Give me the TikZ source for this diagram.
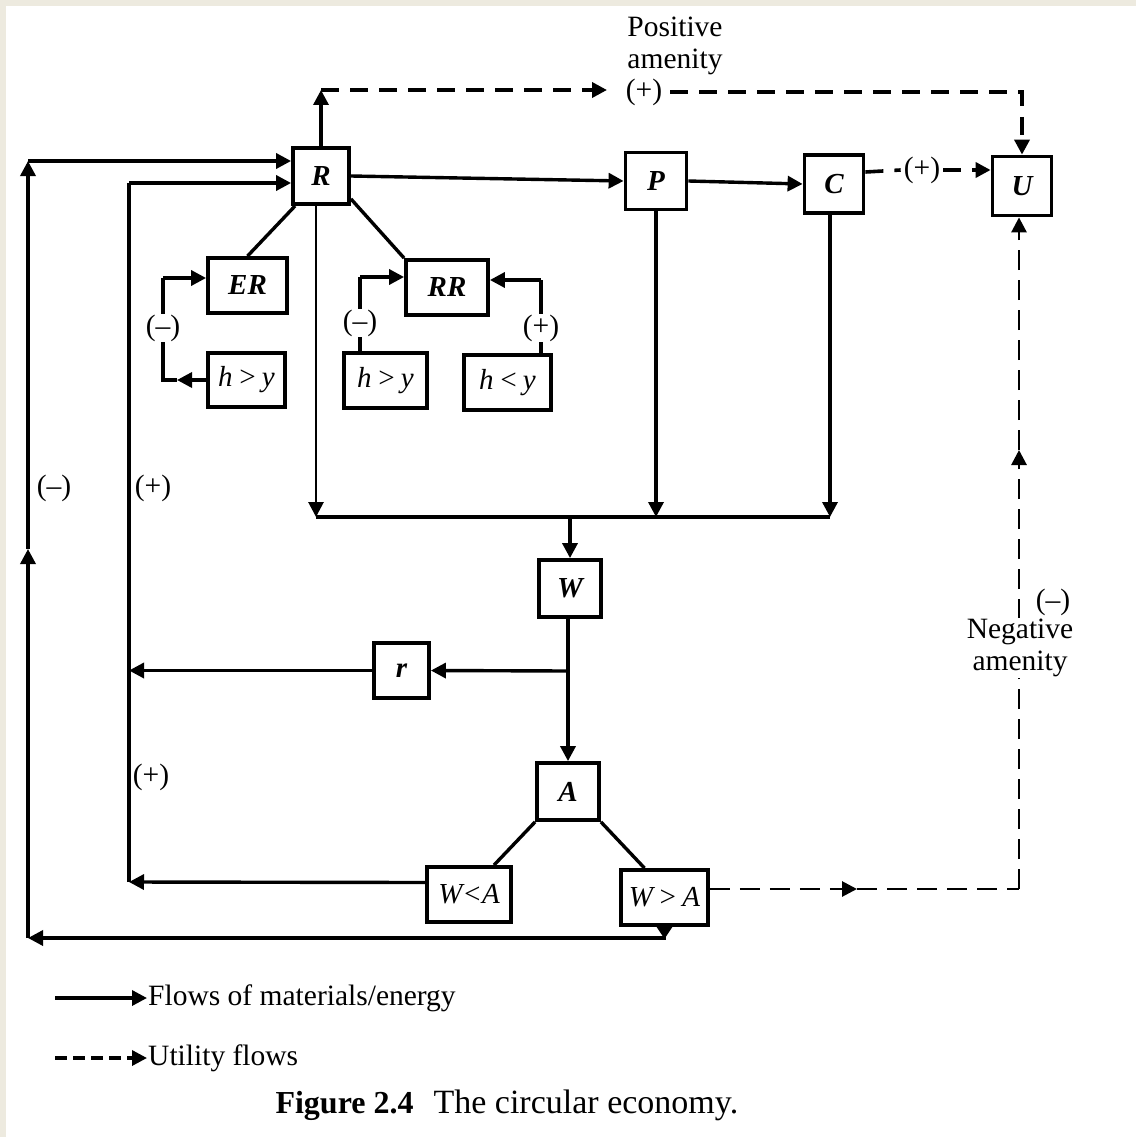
\documentclass[tikz,border=0pt]{standalone}
\usepackage{fontspec}
\setmainfont{Liberation Serif}
\usetikzlibrary{arrows.meta,calc}
\definecolor{beige}{RGB}{237,234,223}
\begin{document}
\begin{tikzpicture}[x=1pt,y=-1pt,
  every node/.style={font=\fontsize{29.5}{32}\selectfont},
  box/.style={draw,line width=3.8pt,inner sep=0pt,font=\fontsize{29}{32}\selectfont\itshape},
  bbox/.style={box,font=\fontsize{29}{32}\selectfont\bfseries\itshape},
  ln/.style={line width=3.4pt},
  tip/.style={-{Triangle[length=15pt,width=15pt]}},
  flow/.style={ln,tip},
  util/.style={line width=3.6pt,dash pattern=on 18pt off 11pt},
  utilthin/.style={line width=2.8pt,dash pattern=on 20pt off 10pt},
  lbl/.style={inner sep=1pt,fill=white}]
\fill[beige] (0,0) rectangle (1136,1137);
\fill[white] (6,6) rectangle (1136,1137);
\useasboundingbox (0,0) rectangle (1136,1137);

% boxes
\node[bbox,minimum width=56pt,minimum height=56pt] (R) at (321,176) {R};
\node[bbox,minimum width=61pt,minimum height=57pt] (P) at (656,181) {P};
\node[bbox,minimum width=59pt,minimum height=58pt] (C) at (834,184) {C};
\node[bbox,minimum width=59pt,minimum height=59pt] (U) at (1022,186) {U};
\node[bbox,minimum width=79pt,minimum height=55pt] (ER) at (247.5,285.5) {ER};
\node[bbox,minimum width=82pt,minimum height=55pt] (RR) at (447,287.5) {RR};
\node[box,minimum width=77pt,minimum height=54pt] (hy1) at (246.5,380) {h\,>\,y};
\node[box,minimum width=83pt,minimum height=55pt] (hy2) at (385.5,380.5) {h\,>\,y};
\node[box,minimum width=87pt,minimum height=55pt] (hy3) at (507.5,382.5) {h\,<\,y};
\node[bbox,minimum width=62pt,minimum height=57pt] (W) at (570,588.5) {W};
\node[bbox,minimum width=55pt,minimum height=55pt] (r) at (401.5,670.5) {r};
\node[bbox,minimum width=62pt,minimum height=57pt] (A) at (568,791.5) {A};
\node[box,minimum width=84pt,minimum height=55pt] (WlA) at (469,894.5) {W<A};
\node[box,minimum width=87pt,minimum height=55pt] (WgA) at (664.5,897.5) {W\,>\,A};

% coordinates
\coordinate (bl) at (28,938);
\coordinate (ml) at (28,549);
\coordinate (tl) at (28,161);
\coordinate (p1) at (129,882);
\coordinate (p2) at (129,183);
\coordinate (s1) at (316,517);
\coordinate (s2) at (830,517);
\coordinate (t1) at (321,90);
\coordinate (t2) at (607,90);
\coordinate (t3) at (670,92);
\coordinate (n1) at (1019,889);
\coordinate (n2) at (857,889);
\coordinate (n3) at (1019,450);
\coordinate (f1a) at (177,380);
\coordinate (f1b) at (163,380);
\coordinate (f1c) at (163,278);
\coordinate (f2) at (360,277);
\coordinate (f3) at (541,280);

% main flows
\draw[flow] (R.east) -- (P.west);
\draw[flow] (P.east) -- (C.west);
\draw[flow,line width=2.8pt] ([xshift=-5pt]R.south) -- (s1);
\draw[ln] (s1) -- (s2);
\draw[flow] (P.south) -- (P.south |- s1);
\draw[flow] ([xshift=-4pt]C.south) -- ([xshift=-4pt]C.south |- s1);
\draw[flow] (W.north |- s1) -- (W.north);
\draw[flow] ([xshift=-2pt]W.south) -- ([xshift=-2pt]W.south |- A.north);
\coordinate (br) at ([xshift=-2pt]W.south |- 0,671);
\draw[flow] (br) -- (r.east);
\draw[flow] (r.west) -- (r.west -| p1);
\draw[flow] ([yshift=12pt]WlA.west) -- (p1);
\draw[ln] (p1) -- (p2);
\draw[flow] (p2) -- (R.west |- p2);

% outer loop
\draw[{Triangle[reversed,length=12pt,width=15pt]}-{Triangle[length=15pt,width=15pt]},ln] (WgA.south) -- (WgA.south |- bl) -- (bl);
\draw[flow] (bl) -- (ml);
\draw[flow] (ml) -- (tl);
\draw[flow] (tl) -- (R.west |- tl);

% A branches
\draw[ln] (A.south west) -- ([xshift=25pt]WlA.north);
\draw[ln] (A.south east) -- ([xshift=-20pt]WgA.north);

% R to ER / RR
\draw[ln] ([xshift=4pt]R.south west) -- (ER.north);
\draw[ln] ([yshift=7pt]R.south east) -- (RR.north west);

% feedback to ER
\draw[flow] (hy1.west) -- (f1a);
\draw[ln] (f1a) -- (f1b) -- (f1c);
\draw[flow] (f1c) -- (ER.west |- f1c);
\node[lbl] (m1) at (163,328) {(–)};

% feedback to RR
\draw[ln] (hy2.north -| f2) -- (f2);
\draw[flow] (f2) -- (RR.west |- f2);
\node[lbl] (m2) at (360,323) {(–)};
\draw[ln] (hy3.north -| f3) -- (f3);
\draw[flow] (f3) -- (RR.east |- f3);
\node[lbl] (m3) at (541,328) {(+)};

% utility flows
\draw[flow] (R.north) -- (t1);
\node[inner sep=2pt] (pa) at (644,92) {(+)};
\draw[util,tip] (t1) -- (t2);
\draw[util,tip] (t3) -- (U.north |- t3) -- (U.north);
\node[align=center] (pos) at (675,46) {Positive\\amenity};

\node[inner sep=3pt] (cu) at (922,170) {(+)};
\draw[util] ([yshift=12pt]C.east) -- (cu.west);
\draw[util,tip] (cu.east) -- (U.west |- cu.east);

\draw[utilthin,tip] (WgA.east |- n1) -- (n2);
\draw[utilthin] (n2) -- (n1);
\draw[utilthin,tip] (n1) -- (n3);
\draw[utilthin,tip] (n3) -- (U.south -| n1);
\node[inner sep=1pt] (nm) at (1053,602) {(–)};
\node[lbl,align=center] (neg) at (1020,648) {Negative\\amenity};

% side labels
\node (sl1) at (54,488) {(–)};
\node (sl2) at (153,488) {(+)};
\node (sl3) at (151,777) {(+)};

% legend
\coordinate (l1) at (55,998);
\node[anchor=west,inner sep=1pt] (lt1) at (147,998) {Flows of materials/energy};
\draw[flow] (l1) -- (lt1.west);
\coordinate (l2) at (55,1058);
\node[anchor=west,inner sep=1pt] (lt2) at (147,1058) {Utility flows};
\draw[line width=3.4pt,dash pattern=on 12pt off 6pt,tip] (l2) -- (lt2.west);
\node[anchor=west] (cap) at (272,1105) {\fontsize{32}{36}\selectfont\textbf{Figure 2.4}\hspace{20pt}\fontsize{34}{36}\selectfont The circular economy.};
\end{tikzpicture}
\end{document}
